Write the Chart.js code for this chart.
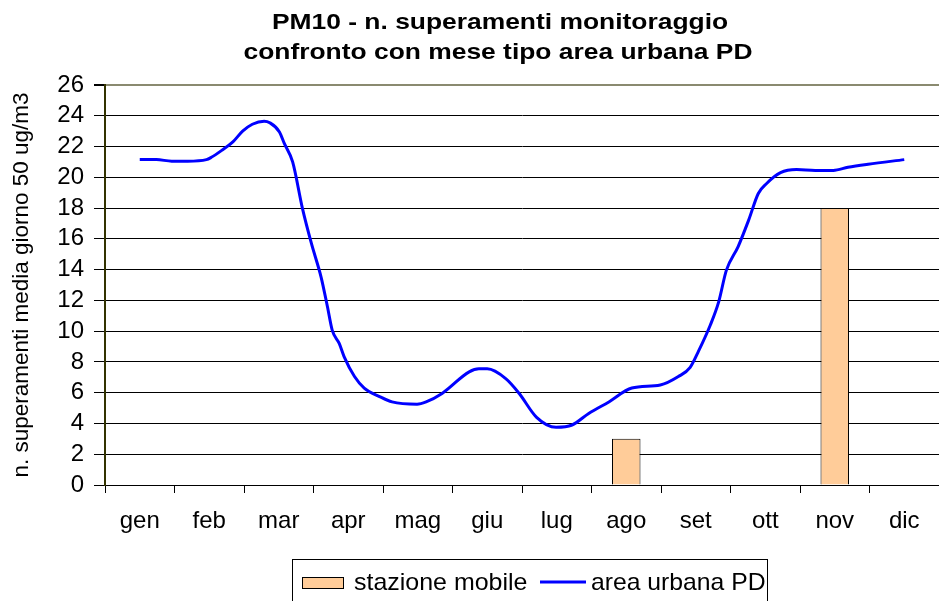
<!DOCTYPE html>
<html>
<head>
<meta charset="utf-8">
<script src="https://cdn.jsdelivr.net/npm/chart.js@4/dist/chart.umd.min.js"></script>
<style>
  html, body { margin: 0; padding: 0; background: #fff; }
  #wrap { width: 939px; height: 601px; position: relative; }
</style>
</head>
<body>
<div id="wrap"><canvas id="grafico"></canvas></div>
<script>
var mesi = ['gen', 'feb', 'mar', 'apr', 'mag', 'giu', 'lug', 'ago', 'set', 'ott', 'nov', 'dic'];
var stazioneMobile = [null, null, null, null, null, null, null, 3, null, null, 18, null];

// posizione in mesi (0 = gen) e valore della curva area urbana
var urbanaX = [0, 0.24, 0.46, 0.69, 0.96, 1.03, 1.18, 1.34, 1.48, 1.62, 1.79, 1.87, 2.01, 2.08, 2.20,
	2.34, 2.47, 2.61, 2.70, 2.77, 2.87, 2.94, 3.09, 3.23, 3.45, 3.63, 3.99, 4.12, 4.35, 4.74, 4.88,
	5.00, 5.27, 5.46, 5.71, 5.99, 6.22, 6.46, 6.75, 7.08, 7.49, 7.75, 7.92, 8.04, 8.21, 8.33, 8.44,
	8.61, 8.76, 8.90, 9.02, 9.22, 9.45, 9.72, 9.98, 10.19, 10.48, 11.00];
var urbanaY = [21.15, 21.15, 21.05, 21.05, 21.15, 21.3, 21.75, 22.3, 23.0, 23.45, 23.65, 23.55, 22.95, 22.2, 21.0,
	18.0, 15.7, 13.5, 11.6, 10.05, 9.2, 8.35, 7.05, 6.3, 5.75, 5.4, 5.25, 5.4, 5.95, 7.35, 7.55,
	7.55, 6.9, 5.95, 4.4, 3.75, 3.9, 4.65, 5.4, 6.3, 6.5, 7.05, 7.65, 8.7, 10.4, 11.9, 13.95,
	15.5, 17.2, 18.95, 19.6, 20.3, 20.5, 20.45, 20.45, 20.65, 20.85, 21.15];
var yTicks = [0, 2, 4, 6, 8, 10, 12, 14, 16, 18, 20, 22, 24, 26];

var titolo = ['PM10 - n. superamenti monitoraggio', 'confronto con mese tipo area urbana PD'];
var FONT = 'Arial, "Liberation Sans", sans-serif';

const puntiUrbana = urbanaX.map((x, i) => ({ x: x, y: urbanaY[i] }));

// testo un po' allargato in orizzontale, come nell'immagine di Excel
const testoLargo = (ctx, txt, x, y, sx) => {
	ctx.save();
	ctx.translate(x, y);
	ctx.scale(sx, 1);
	ctx.fillText(txt, 0, 0);
	ctx.restore();
};

// titolo e legenda disegnati a mano
const decorazioni = {
	id: 'decorazioni',
	afterDraw: (chart) => {
		const ctx = chart.ctx;
		ctx.save();
		ctx.fillStyle = '#000';
		ctx.textAlign = 'center';
		ctx.textBaseline = 'middle';
		ctx.font = 'bold 22px ' + FONT;
		testoLargo(ctx, titolo[0], 500, 23, 1.2);
		testoLargo(ctx, titolo[1], 498, 53, 1.2);

		// legenda
		ctx.strokeStyle = '#000';
		ctx.lineWidth = 1;
		ctx.strokeRect(292.5, 559.5, 475, 50);
		const ds = chart.data.datasets;
		ctx.fillStyle = ds[0].backgroundColor;
		ctx.fillRect(302, 577, 42, 12);
		ctx.strokeRect(302.5, 577.5, 41, 11);
		ctx.font = '24px ' + FONT;
		ctx.textAlign = 'left';
		ctx.fillStyle = '#000';
		testoLargo(ctx, ds[0].label, 354, 583, 1.04);
		ctx.strokeStyle = ds[1].borderColor;
		ctx.lineWidth = 3;
		ctx.beginPath();
		ctx.moveTo(540, 582);
		ctx.lineTo(586, 582);
		ctx.stroke();
		testoLargo(ctx, ds[1].label, 591, 583, 1.03);
		ctx.restore();
	}
};

new Chart(document.getElementById('grafico'), {
	type: 'bar',
	data: {
		labels: mesi,
		datasets: [{
			type: 'bar',
			label: 'stazione mobile',
			data: stazioneMobile,
			backgroundColor: '#FFCC99',
			borderColor: '#000',
			borderWidth: 1,
			grouped: false,
			barPercentage: 0.41,
			categoryPercentage: 1.0,
			xAxisID: 'x',
			order: 2
		}, {
			type: 'line',
			label: 'area urbana PD',
			data: puntiUrbana,
			borderColor: '#0000FF',
			borderWidth: 3,
			pointRadius: 0,
			tension: 0.4,
			cubicInterpolationMode: 'monotone',
			fill: false,
			xAxisID: 'x2',
			order: 1
		}]
	},
	options: {
		responsive: true,
		maintainAspectRatio: false,
		animation: false,
		layout: { padding: { top: 85, bottom: 60, left: 0, right: 0 } },
		plugins: {
			legend: { display: false },
			title: { display: false },
			tooltip: { enabled: false }
		},
		scales: {
			x: {
				type: 'category',
				offset: true,
				grid: {
					offset: true,
					drawOnChartArea: false,
					drawTicks: true,
					tickLength: 8,
					color: '#000',
					lineWidth: 1
				},
				border: { color: '#000', width: 1 },
				ticks: {
					color: '#000',
					font: { family: FONT, size: 24 },
					padding: 14,
					maxRotation: 0
				},
				afterFit: (scale) => { scale.height = 56; }
			},
			x2: {
				type: 'linear',
				display: false,
				offset: false,
				min: -0.5,
				max: 11.5
			},
			y: {
				min: 0,
				max: 26,
				afterBuildTicks: (scale) => {
					scale.ticks = yTicks.map(v => ({ value: v }));
				},
				grid: {
					color: (c) => c.tick && c.tick.value === 26 ? '#8a8a70' : '#000',
					lineWidth: (c) => c.tick && c.tick.value === 26 ? 2 : 1,
					tickColor: '#000',
					tickLength: 11,
					drawTicks: true
				},
				border: { color: '#333300', width: 2 },
				ticks: {
					color: '#000',
					font: { family: FONT, size: 24 },
					padding: 10,
					autoSkip: false
				},
				title: {
					display: true,
					text: 'n. superamenti media giorno 50 ug/m3',
					color: '#000',
					font: { family: FONT, size: 22.5 },
					padding: { top: 8, bottom: 0 }
				},
				afterFit: (scale) => { scale.width = 105; }
			}
		}
	},
	plugins: [decorazioni]
});
</script>
</body>
</html>
